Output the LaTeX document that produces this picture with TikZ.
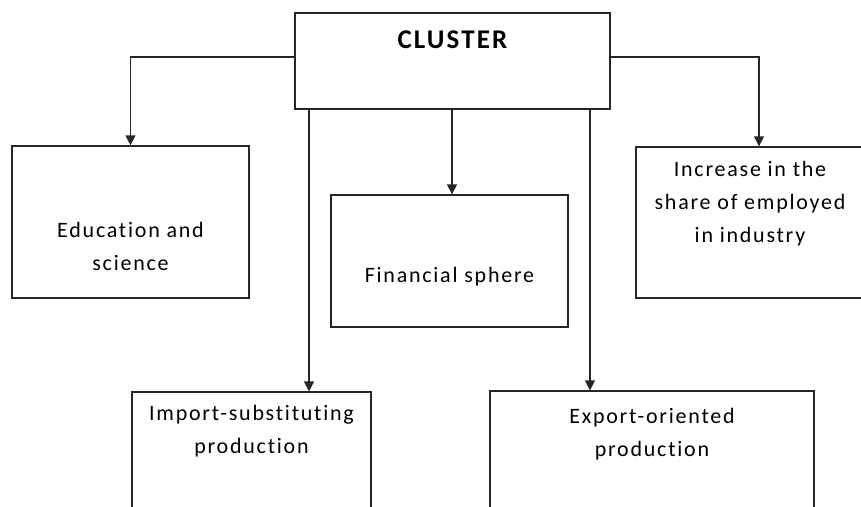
\documentclass[tikz,border=0pt]{standalone}
\usepackage{fontspec}
\setmainfont{Carlito}
\newfontfamily\boxfont[LetterSpace=8,Ligatures=NoCommon]{Carlito}
\usetikzlibrary{arrows.meta,positioning}
\tikzset{
	box/.style={draw=black!85, line width=1.3pt, rectangle, inner sep=0pt},
	txt/.style={align=center, inner sep=0pt, font=\boxfont\fontsize{22}{33}\selectfont},
	arr/.style={draw=black!85, line width=1.3pt, -{Triangle[width=10pt,length=10pt]}}
}
\begin{document}
\begin{tikzpicture}[x=1pt,y=-1pt]
	\useasboundingbox (0,0) rectangle (861,506);
	\clip (0,0) rectangle (861,506);
	\node[box, minimum width=315pt, minimum height=96pt] (cluster) at (452.5,61) {};
	\node[box, minimum width=237pt, minimum height=152pt] (edu) at (130.5,222) {};
	\node[box, minimum width=237pt, minimum height=132pt] (fin) at (449.5,261) {};
	\node[box, minimum width=228pt, minimum height=151pt] (emp) at (750,222.5) {};
	\node[box, minimum width=239pt, minimum height=168pt] (imp) at (251.5,476) {};
	\node[box, minimum width=324pt, minimum height=169pt] (exp) at (652,475.5) {};
	\node[txt, font=\boxfont\bfseries\fontsize{27}{33}\selectfont] (clustertext) at (452.5,40) {CLUSTER};
	\node[txt] (edutext) at (130.5,246) {Education and\\science};
	\node[txt] (fintext) at (449.5,277) {Financial sphere};
	\node[txt] (emptext) at (750,204) {Increase in the\\share of employed\\in industry};
	\node[txt] (imptext) at (251.5,431) {Import-substituting\\production};
	\node[txt] (exptext) at (652,434) {Export-oriented\\production};
	\draw[arr] ([yshift=4pt]cluster.west) -| (edu.north);
	\draw[arr] ([yshift=4pt]cluster.east) -| ([xshift=9pt]emp.north);
	\draw[arr] ([xshift=-143.5pt]cluster.south) -- ([xshift=57.5pt]imp.north);
	\draw[arr] ([xshift=-0.5pt]cluster.south) -- ([xshift=-0.5pt]cluster.south |- fin.north);
	\draw[arr] ([xshift=137.5pt]cluster.south) -- ([xshift=-62pt]exp.north);
\end{tikzpicture}
\end{document}
